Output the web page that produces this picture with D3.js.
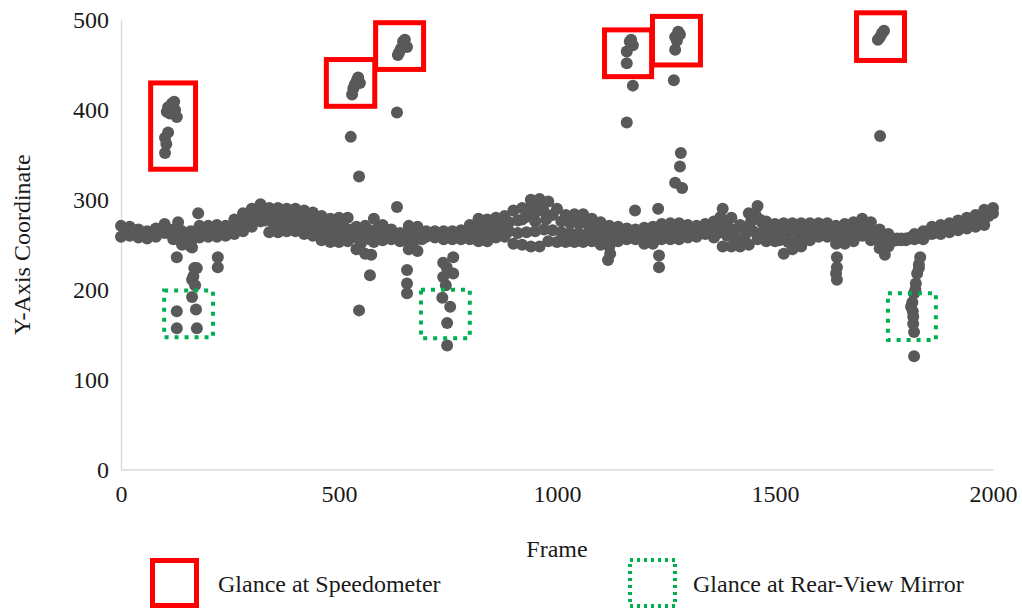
<!DOCTYPE html>
<html>
<head>
<meta charset="utf-8">
<script src="https://cdn.jsdelivr.net/npm/d3@7"></script>
<style>
  html, body { margin: 0; padding: 0; background: #fff; }
</style>
</head>
<body>
<div id="chart"></div>
<script>
// Dense band of head positions: upper and lower edge, sampled every 20 frames
const bandFrames = [
  0, 20, 40, 60, 80, 100, 120, 140, 160, 180,
  200, 220, 240, 260, 280, 300, 320, 340, 360, 380,
  400, 420, 440, 460, 480, 500, 520, 540, 560, 580,
  600, 620, 640, 660, 680, 700, 720, 740, 760, 780,
  800, 820, 840, 860, 880, 900, 920, 940, 960, 980,
  1000, 1020, 1040, 1060, 1080, 1100, 1120, 1140, 1160, 1180,
  1200, 1220, 1240, 1260, 1280, 1300, 1320, 1340, 1360, 1380,
  1400, 1420, 1440, 1460, 1480, 1500, 1520, 1540, 1560, 1580,
  1600, 1620, 1640, 1660, 1680, 1700, 1720, 1740, 1760, 1780,
  1800, 1820, 1840, 1860, 1880, 1900, 1920, 1940, 1960, 1980,
  2000
]
const bandTop = [
  271, 270, 267, 265, 268, 273, 267, 265, 265, 271,
  271, 272, 271, 278, 285, 290, 295, 291, 291, 290,
  290, 288, 286, 282, 279, 280, 280, 270, 271, 279,
  272, 267, 263, 271, 270, 265, 265, 265, 265, 266,
  272, 279, 278, 280, 282, 288, 291, 300, 301, 298,
  290, 283, 284, 284, 279, 275, 271, 270, 268, 267,
  269, 270, 273, 274, 274, 272, 271, 273, 276, 290,
  280, 272, 285, 293, 276, 273, 274, 274, 274, 274,
  274, 274, 271, 273, 275, 279, 275, 267, 262, 257,
  257, 262, 265, 270, 272, 274, 277, 280, 283, 289,
  291
]
const bandLow = [
  259, 260, 258, 257, 259, 263, 256, 250, 248, 258,
  259, 259, 260, 262, 265, 270, 276, 264, 264, 265,
  265, 262, 260, 255, 253, 253, 254, 245, 240, 253,
  255, 256, 254, 245, 243, 259, 258, 256, 256, 256,
  256, 254, 254, 258, 259, 251, 250, 248, 248, 254,
  253, 253, 253, 253, 254, 250, 248, 254, 256, 256,
  251, 251, 256, 256, 256, 258, 259, 262, 258, 248,
  248, 248, 250, 256, 254, 254, 240, 245, 248, 255,
  259, 259, 251, 251, 254, 260, 255, 246, 248, 255,
  255, 256, 256, 262, 262, 264, 266, 268, 270, 272,
  285
]

// Inner rows of the band, on the frames in between
const bandInnerFrames = [
  10, 30, 50, 70, 90, 110, 130, 150, 170, 190,
  210, 230, 250, 270, 290, 310, 330, 350, 370, 390,
  410, 430, 450, 470, 490, 510, 530, 550, 570, 590,
  610, 630, 650, 670, 690, 710, 730, 750, 770, 790,
  810, 830, 850, 870, 890, 910, 930, 950, 970, 990,
  1010, 1030, 1050, 1070, 1090, 1110, 1130, 1150, 1170, 1190,
  1210, 1230, 1250, 1270, 1290, 1310, 1330, 1350, 1370, 1390,
  1410, 1430, 1450, 1470, 1490, 1510, 1530, 1550, 1570, 1590,
  1610, 1630, 1650, 1670, 1690, 1710, 1730, 1750, 1770, 1790,
  1810, 1830, 1850, 1870, 1890, 1910, 1930, 1950, 1970, 1990
]
const bandInnerHigh = [
  267, 266, 263, 264, 267, 267, 262, 260, 263, 267,
  268, 268, 270, 276, 281, 286, 286, 282, 282, 282,
  281, 279, 275, 272, 271, 271, 267, 262, 266, 269,
  265, 262, 261, 262, 262, 263, 262, 261, 262, 265,
  269, 271, 272, 274, 275, 277, 281, 286, 287, 283,
  276, 274, 274, 273, 269, 265, 264, 265, 264, 263,
  264, 266, 268, 268, 268, 267, 268, 270, 273, 276,
  267, 269, 278, 275, 268, 265, 264, 265, 267, 269,
  269, 267, 265, 267, 271, 271, 264, 259, 257, 257,
  258, 261, 265, 268, 270, 272, 275, 277, 281, 286
]
const bandInnerLow = [
  263, 262, 260, 261, 264, 263, 257, 254, 258, 262,
  263, 263, 265, 269, 274, 279, 277, 273, 273, 273,
  272, 269, 266, 263, 261, 262, 258, 251, 256, 261,
  260, 258, 255, 252, 256, 261, 260, 259, 259, 260,
  262, 262, 263, 266, 265, 263, 264, 265, 267, 266,
  264, 263, 263, 262, 260, 257, 257, 259, 260, 258,
  257, 259, 262, 262, 262, 263, 264, 265, 263, 260,
  257, 258, 265, 264, 261, 255, 253, 255, 259, 262,
  264, 261, 258, 259, 263, 264, 257, 253, 254, 255,
  257, 258, 262, 265, 266, 268, 271, 273, 276, 282
]

// Extra fill where the band is at its thickest
const bandExtraFrames = [920, 940, 950, 960, 975, 1375, 1385, 1395, 1445, 1455, 1465]
const bandExtraValues = [278, 292, 276, 293, 278, 281, 272, 268, 276, 284, 278]

// Isolated points (glances away from the road)
const glanceFrames = [
  101, 101, 104, 108, 105, 108, 117, 122, 124, 128, 112,
  131, 128, 163, 177, 168, 174, 166, 163, 170, 163, 128, 128, 172, 174, 222, 222,
  530, 533, 536, 541, 544, 548,
  527, 546, 546, 571, 574,
  635, 638, 642, 647, 651, 656,
  633, 633, 656, 656, 656,
  762, 739, 762, 739, 747, 745, 737, 755, 748, 748,
  1160, 1160, 1167, 1170, 1174,
  1174, 1160, 1179, 1117, 1122,
  1271, 1271, 1275, 1278, 1282,
  1268, 1284, 1282, 1271, 1287, 1232, 1234, 1234,
  1736, 1741, 1745, 1750,
  1741, 1752,
  1642, 1642, 1640, 1642,
  1833, 1830, 1830, 1826, 1823, 1822, 1819, 1815, 1812, 1816, 1817, 1817, 1819, 1819
]
const glanceValues = [
  352, 369, 362, 375, 398, 403, 407, 409, 400, 392, 396,
  275, 236, 247, 285, 224, 224, 215, 211, 205, 192, 176, 157, 178, 157, 236, 225,
  417, 424, 428, 433, 436, 430,
  370, 326, 177, 216, 239,
  461, 464, 468, 476, 478, 470,
  397, 292, 222, 207, 196,
  236, 230, 218, 214, 225, 205, 191, 181, 163, 138,
  452, 465, 476, 478, 472,
  427, 386, 288, 233, 240,
  467, 481, 477, 487, 484,
  433, 352, 337, 319, 313, 290, 225, 238,
  478, 481, 485, 488,
  371, 239,
  236, 225, 218, 211,
  236, 228, 224, 218, 207, 200, 196, 186, 181, 176, 170, 162, 153, 126
]

// Annotation boxes in data units: [frameStart, frameEnd, valueLow, valueHigh]
const speedoBoxes = [
  [68, 171, 334, 430],
  [471, 582, 404, 456],
  [584, 694, 445, 497],
  [1109, 1217, 437, 489],
  [1219, 1329, 450, 504],
  [1687, 1797, 455, 508]
]
const mirrorBoxes = [
  [99, 211, 147, 199],
  [688, 800, 146, 200],
  [1759, 1869, 144, 196]
]

const xTicks = [0, 500, 1000, 1500, 2000]
const yTicks = [0, 100, 200, 300, 400, 500]

const width = 1022
const height = 611
const margin = { top: 20, right: 29, bottom: 141.5, left: 121 }
const fontFamily = "'Liberation Serif', 'Times New Roman', serif"
const fontSize = '24px'
const textColor = '#1a1a1a'

const svg = d3.select('#chart').append('svg').attr('width', width).attr('height', height)

const xScale = d3.scaleLinear().domain([0, 2000]).range([margin.left, width - margin.right])
const yScale = d3.scaleLinear().domain([0, 500]).range([height - margin.bottom, margin.top])

// axes
svg
  .append('g')
  .attr('class', 'x-axis')
  .attr('transform', `translate(0,${height - margin.bottom})`)
  .call(d3.axisBottom(xScale).tickValues(xTicks).tickFormat(d3.format('d')).tickSize(0).tickPadding(15))
  .call((g) => {
    g.select('.domain').attr('stroke', '#d9d9d9').attr('stroke-width', 1.3)
    g.selectAll('.tick text')
      .attr('fill', textColor)
      .style('font-size', fontSize)
      .style('font-family', fontFamily)
  })

svg
  .append('g')
  .attr('class', 'y-axis')
  .attr('transform', `translate(${margin.left},0)`)
  .call(d3.axisLeft(yScale).tickValues(yTicks).tickFormat(d3.format('d')).tickSize(0).tickPadding(12))
  .call((g) => {
    g.select('.domain').attr('stroke', '#d9d9d9').attr('stroke-width', 1.3)
    g.selectAll('.tick text')
      .attr('fill', textColor)
      .style('font-size', fontSize)
      .style('font-family', fontFamily)
  })

// axis titles
svg
  .append('text')
  .attr('transform', `translate(30,${yScale(250)}) rotate(-90)`)
  .attr('text-anchor', 'middle')
  .style('font-size', fontSize)
  .style('font-family', fontFamily)
  .attr('fill', textColor)
  .text('Y-Axis Coordinate')

svg
  .append('text')
  .attr('x', xScale(1000))
  .attr('y', 557)
  .attr('text-anchor', 'middle')
  .style('font-size', fontSize)
  .style('font-family', fontFamily)
  .attr('fill', textColor)
  .text('Frame')

// points
const pointColor = '#595959'
const drawPoints = (frames, values, cls) =>
  svg
    .append('g')
    .attr('class', cls)
    .selectAll('circle')
    .data(frames.map((f, i) => [f, values[i]]))
    .join('circle')
    .attr('cx', (d) => xScale(d[0]))
    .attr('cy', (d) => yScale(d[1]))
    .attr('r', 6)
    .attr('fill', pointColor)

drawPoints(bandFrames, bandTop, 'band-top')
drawPoints(bandFrames, bandLow, 'band-low')
drawPoints(bandInnerFrames, bandInnerHigh, 'band-inner-high')
drawPoints(bandInnerFrames, bandInnerLow, 'band-inner-low')
drawPoints(bandExtraFrames, bandExtraValues, 'band-extra')
drawPoints(glanceFrames, glanceValues, 'glances')

// annotation boxes
const boxRect = (sel) =>
  sel
    .attr('x', (d) => xScale(d[0]))
    .attr('y', (d) => yScale(d[3]))
    .attr('width', (d) => xScale(d[1]) - xScale(d[0]))
    .attr('height', (d) => yScale(d[2]) - yScale(d[3]))
    .attr('fill', 'none')

svg
  .append('g')
  .selectAll('rect')
  .data(speedoBoxes)
  .join('rect')
  .call(boxRect)
  .attr('stroke', '#ff0000')
  .attr('stroke-width', 5)

svg
  .append('g')
  .selectAll('rect')
  .data(mirrorBoxes)
  .join('rect')
  .call(boxRect)
  .attr('stroke', '#00b050')
  .attr('stroke-width', 4)
  .attr('stroke-dasharray', '4,6')

// legend
const legend = svg.append('g').attr('class', 'legend')
legend
  .append('rect')
  .attr('x', 152.5)
  .attr('y', 560.5)
  .attr('width', 44)
  .attr('height', 45)
  .attr('fill', 'none')
  .attr('stroke', '#ff0000')
  .attr('stroke-width', 5)
legend
  .append('text')
  .attr('x', 218)
  .attr('y', 592)
  .style('font-size', fontSize)
  .style('font-family', fontFamily)
  .attr('fill', textColor)
  .text('Glance at Speedometer')

legend
  .append('rect')
  .attr('x', 630)
  .attr('y', 560)
  .attr('width', 45)
  .attr('height', 46)
  .attr('fill', 'none')
  .attr('stroke', '#00b050')
  .attr('stroke-width', 4)
  .attr('stroke-dasharray', '3,4')
legend
  .append('text')
  .attr('x', 693)
  .attr('y', 592)
  .style('font-size', fontSize)
  .style('font-family', fontFamily)
  .attr('fill', textColor)
  .text('Glance at Rear-View Mirror')
</script>
</body>
</html>
